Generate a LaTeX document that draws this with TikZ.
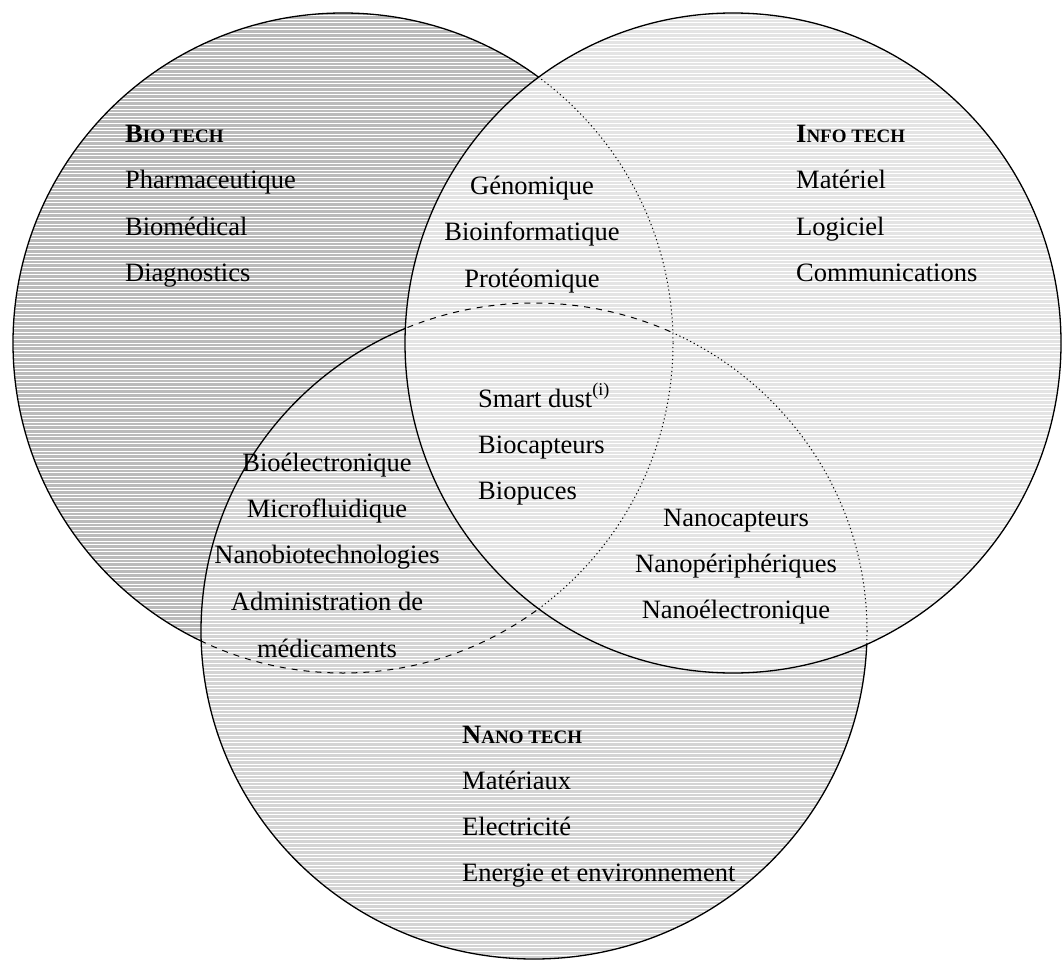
\documentclass[tikz,border=0pt]{standalone}
\usepackage{fontspec}
\setmainfont{Liberation Serif}
\definecolor{biogray}{HTML}{BBBBBB}
\definecolor{nanogray}{HTML}{D4D4D4}
\definecolor{infogray}{HTML}{E4E4E4}
\newcommand\BC{(343,343) circle[radius=330]}
\newcommand\IC{(733,343) ellipse[x radius=328, y radius=330]}
\newcommand\NC{(534,631) ellipse[x radius=333, y radius=328]}
\newcommand\hatchfill[2]{%
  \begin{scope}
    \clip #1;
    \fill[#2] (0,0) rectangle (1062,960);
    \foreach \yy in {1,4.6,...,960} \draw[white,line width=0.9pt] (0,\yy) -- (1062,\yy);
  \end{scope}}
\newcommand\sck[2]{\textbf{#1{\fontsize{19}{20}\selectfont #2}}}
\newcommand\supi{\raisebox{12pt}{\fontsize{18}{18}\selectfont (i)}}
\begin{document}
\begin{tikzpicture}[x=1pt,y=-1pt,
  outline/.style={line width=1.3pt,black},
  dashline/.style={line width=1pt,black,dash pattern=on 6pt off 6pt},
  dotline/.style={line width=1pt,black,dash pattern=on 1.2pt off 2.8pt},
  txt/.style={font=\fontsize{26.5}{30}\selectfont,inner sep=0pt},
  lw/.style={txt,anchor=base west},
  cc/.style={txt,anchor=base}]
\useasboundingbox (0,0) rectangle (1062,960);
% bio
\hatchfill{\BC}{biogray}
\draw[outline] \BC;
% nano
\hatchfill{\NC}{nanogray}
\begin{scope}\clip \NC; \draw[dashline] \BC; \end{scope}
\draw[outline] \NC;
% info
\hatchfill{\IC}{infogray}
\begin{scope}\clip \IC; \draw[dotline] \BC; \end{scope}
\begin{scope}\clip \IC; \clip \BC; \draw[dashline] \NC; \end{scope}
\begin{scope}[even odd rule]\clip \IC; \clip (-10,-10) rectangle (1072,970) \BC; \draw[dotline] \NC; \end{scope}
\draw[outline] \IC;
% bio texts
\node[lw] (bioh) at (125,143) {\sck{B}{IO TECH}};
\node[lw] (bio1) at (125,189) {Pharmaceutique};
\node[lw] (bio2) at (125,235) {Biomédical};
\node[lw] (bio3) at (125,281) {Diagnostics};
% info texts
\node[lw] (infoh) at (796,143) {\sck{I}{NFO TECH}};
\node[lw] (info1) at (796,189) {Matériel};
\node[lw] (info2) at (796,235) {Logiciel};
\node[lw] (info3) at (796,281) {Communications};
% nano texts
\node[lw] (nanoh) at (462,743) {\sck{N}{ANO TECH}};
\node[lw] (nano1) at (462,789) {Matériaux};
\node[lw] (nano2) at (462,835) {Electricité};
\node[lw] (nano3) at (462,881) {Energie et environnement};
% bio-info
\node[cc] (bi1) at (532,194) {Génomique};
\node[cc] (bi2) at (532,240) {Bioinformatique};
\node[cc] (bi3) at (532,287) {Protéomique};
% center
\node[lw] (c1) at (478,407) {Smart dust\supi};
\node[lw] (c2) at (478,453) {Biocapteurs};
\node[lw] (c3) at (478,499) {Biopuces};
% bio-nano
\node[cc] (bn1) at (327,471) {Bioélectronique};
\node[cc] (bn2) at (327,517) {Microfluidique};
\node[cc] (bn3) at (327,563) {Nanobiotechnologies};
\node[cc] (bn4) at (327,610) {Administration de};
\node[cc] (bn5) at (327,657) {médicaments};
% info-nano
\node[cc] (in1) at (736,526) {Nanocapteurs};
\node[cc] (in2) at (736,572) {Nanopériphériques};
\node[cc] (in3) at (736,618) {Nanoélectronique};
\end{tikzpicture}
\end{document}
